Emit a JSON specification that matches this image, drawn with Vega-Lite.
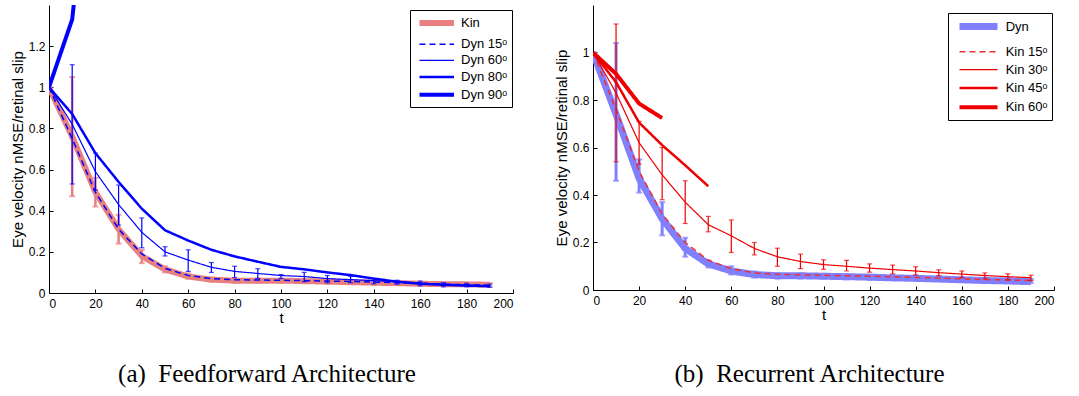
{
  "$schema": "https://vega.github.io/schema/vega-lite/v6.json",
  "padding": {"left": 10, "top": 5, "right": 5, "bottom": 2},
  "spacing": 40,
  "background": "white",
  "resolve": {"scale": {"color": "independent", "strokeDash": "independent", "strokeWidth": "independent", "x": "independent", "y": "independent"}, "legend": {"color": "independent", "strokeDash": "independent", "strokeWidth": "independent"}},
  "config": {
    "view": {"stroke": null},
    "axis": {"domainColor": "black", "tickColor": "black", "labelColor": "black", "titleColor": "black", "labelFont": "Liberation Sans", "titleFont": "Liberation Sans", "labelFontSize": 12, "titleFontSize": 15, "titleFontWeight": "normal", "grid": false, "tickSize": -4, "labelPadding": 8},
    "axisX": {"labelPadding": 9, "titlePadding": 1},
    "axisY": {"titlePadding": 3}
  },
  "datasets": {
    "ff": [
      {"s": "Kin", "t": 0, "v": 1.0}, {"s": "Kin", "t": 10, "v": 0.76}, {"s": "Kin", "t": 20, "v": 0.49}, {"s": "Kin", "t": 30, "v": 0.31}, {"s": "Kin", "t": 40, "v": 0.18}, {"s": "Kin", "t": 50, "v": 0.115}, {"s": "Kin", "t": 60, "v": 0.08}, {"s": "Kin", "t": 70, "v": 0.065}, {"s": "Kin", "t": 80, "v": 0.06}, {"s": "Kin", "t": 90, "v": 0.06}, {"s": "Kin", "t": 100, "v": 0.06}, {"s": "Kin", "t": 110, "v": 0.058}, {"s": "Kin", "t": 120, "v": 0.055}, {"s": "Kin", "t": 130, "v": 0.053}, {"s": "Kin", "t": 140, "v": 0.05}, {"s": "Kin", "t": 150, "v": 0.048}, {"s": "Kin", "t": 160, "v": 0.045}, {"s": "Kin", "t": 170, "v": 0.043}, {"s": "Kin", "t": 180, "v": 0.042}, {"s": "Kin", "t": 190, "v": 0.04},
      {"s": "Dyn 15ᵒ", "t": 0, "v": 1.0}, {"s": "Dyn 15ᵒ", "t": 10, "v": 0.75}, {"s": "Dyn 15ᵒ", "t": 20, "v": 0.49}, {"s": "Dyn 15ᵒ", "t": 30, "v": 0.31}, {"s": "Dyn 15ᵒ", "t": 40, "v": 0.19}, {"s": "Dyn 15ᵒ", "t": 50, "v": 0.12}, {"s": "Dyn 15ᵒ", "t": 60, "v": 0.085}, {"s": "Dyn 15ᵒ", "t": 70, "v": 0.07}, {"s": "Dyn 15ᵒ", "t": 80, "v": 0.065}, {"s": "Dyn 15ᵒ", "t": 90, "v": 0.063}, {"s": "Dyn 15ᵒ", "t": 100, "v": 0.062}, {"s": "Dyn 15ᵒ", "t": 110, "v": 0.06}, {"s": "Dyn 15ᵒ", "t": 120, "v": 0.058}, {"s": "Dyn 15ᵒ", "t": 130, "v": 0.056}, {"s": "Dyn 15ᵒ", "t": 140, "v": 0.053}, {"s": "Dyn 15ᵒ", "t": 150, "v": 0.05}, {"s": "Dyn 15ᵒ", "t": 160, "v": 0.047}, {"s": "Dyn 15ᵒ", "t": 170, "v": 0.043}, {"s": "Dyn 15ᵒ", "t": 180, "v": 0.04}, {"s": "Dyn 15ᵒ", "t": 190, "v": 0.038},
      {"s": "Dyn 60ᵒ", "t": 0, "v": 1.0}, {"s": "Dyn 60ᵒ", "t": 10, "v": 0.82}, {"s": "Dyn 60ᵒ", "t": 20, "v": 0.59}, {"s": "Dyn 60ᵒ", "t": 30, "v": 0.43}, {"s": "Dyn 60ᵒ", "t": 40, "v": 0.295}, {"s": "Dyn 60ᵒ", "t": 50, "v": 0.2}, {"s": "Dyn 60ᵒ", "t": 60, "v": 0.16}, {"s": "Dyn 60ᵒ", "t": 70, "v": 0.125}, {"s": "Dyn 60ᵒ", "t": 80, "v": 0.105}, {"s": "Dyn 60ᵒ", "t": 90, "v": 0.095}, {"s": "Dyn 60ᵒ", "t": 100, "v": 0.085}, {"s": "Dyn 60ᵒ", "t": 110, "v": 0.08}, {"s": "Dyn 60ᵒ", "t": 120, "v": 0.07}, {"s": "Dyn 60ᵒ", "t": 130, "v": 0.065}, {"s": "Dyn 60ᵒ", "t": 140, "v": 0.06}, {"s": "Dyn 60ᵒ", "t": 150, "v": 0.055}, {"s": "Dyn 60ᵒ", "t": 160, "v": 0.048}, {"s": "Dyn 60ᵒ", "t": 170, "v": 0.042}, {"s": "Dyn 60ᵒ", "t": 180, "v": 0.038}, {"s": "Dyn 60ᵒ", "t": 190, "v": 0.035},
      {"s": "Dyn 80ᵒ", "t": 0, "v": 1.0}, {"s": "Dyn 80ᵒ", "t": 10, "v": 0.87}, {"s": "Dyn 80ᵒ", "t": 20, "v": 0.68}, {"s": "Dyn 80ᵒ", "t": 30, "v": 0.54}, {"s": "Dyn 80ᵒ", "t": 40, "v": 0.41}, {"s": "Dyn 80ᵒ", "t": 50, "v": 0.305}, {"s": "Dyn 80ᵒ", "t": 60, "v": 0.255}, {"s": "Dyn 80ᵒ", "t": 70, "v": 0.21}, {"s": "Dyn 80ᵒ", "t": 80, "v": 0.178}, {"s": "Dyn 80ᵒ", "t": 90, "v": 0.152}, {"s": "Dyn 80ᵒ", "t": 100, "v": 0.127}, {"s": "Dyn 80ᵒ", "t": 110, "v": 0.115}, {"s": "Dyn 80ᵒ", "t": 120, "v": 0.1}, {"s": "Dyn 80ᵒ", "t": 130, "v": 0.087}, {"s": "Dyn 80ᵒ", "t": 140, "v": 0.07}, {"s": "Dyn 80ᵒ", "t": 150, "v": 0.055}, {"s": "Dyn 80ᵒ", "t": 160, "v": 0.045}, {"s": "Dyn 80ᵒ", "t": 170, "v": 0.04}, {"s": "Dyn 80ᵒ", "t": 180, "v": 0.036}, {"s": "Dyn 80ᵒ", "t": 190, "v": 0.033},
      {"s": "Dyn 90ᵒ", "t": 0, "v": 1.0}, {"s": "Dyn 90ᵒ", "t": 10, "v": 1.33}, {"s": "Dyn 90ᵒ", "t": 20, "v": 2.4}
    ],
    "ffErr": [
      {"s": "Kin", "t": 10, "lo": 0.47, "hi": 1.05}, {"s": "Kin", "t": 20, "lo": 0.42, "hi": 0.56}, {"s": "Kin", "t": 30, "lo": 0.24, "hi": 0.38}, {"s": "Kin", "t": 40, "lo": 0.145, "hi": 0.21}, {"s": "Kin", "t": 50, "lo": 0.1, "hi": 0.13}, {"s": "Kin", "t": 60, "lo": 0.07, "hi": 0.095}, {"s": "Kin", "t": 70, "lo": 0.055, "hi": 0.075}, {"s": "Kin", "t": 80, "lo": 0.05, "hi": 0.07}, {"s": "Kin", "t": 90, "lo": 0.05, "hi": 0.07}, {"s": "Kin", "t": 100, "lo": 0.05, "hi": 0.07}, {"s": "Kin", "t": 110, "lo": 0.048, "hi": 0.068}, {"s": "Kin", "t": 120, "lo": 0.045, "hi": 0.065}, {"s": "Kin", "t": 130, "lo": 0.043, "hi": 0.063}, {"s": "Kin", "t": 140, "lo": 0.04, "hi": 0.06}, {"s": "Kin", "t": 150, "lo": 0.04, "hi": 0.056}, {"s": "Kin", "t": 160, "lo": 0.037, "hi": 0.053}, {"s": "Kin", "t": 170, "lo": 0.035, "hi": 0.051}, {"s": "Kin", "t": 180, "lo": 0.034, "hi": 0.05}, {"s": "Kin", "t": 190, "lo": 0.032, "hi": 0.048},
      {"s": "Dyn 60ᵒ", "t": 10, "lo": 0.53, "hi": 1.11}, {"s": "Dyn 60ᵒ", "t": 20, "lo": 0.5, "hi": 0.68}, {"s": "Dyn 60ᵒ", "t": 30, "lo": 0.33, "hi": 0.525}, {"s": "Dyn 60ᵒ", "t": 40, "lo": 0.22, "hi": 0.365}, {"s": "Dyn 60ᵒ", "t": 50, "lo": 0.18, "hi": 0.225}, {"s": "Dyn 60ᵒ", "t": 60, "lo": 0.105, "hi": 0.21}, {"s": "Dyn 60ᵒ", "t": 70, "lo": 0.1, "hi": 0.148}, {"s": "Dyn 60ᵒ", "t": 80, "lo": 0.075, "hi": 0.13}, {"s": "Dyn 60ᵒ", "t": 90, "lo": 0.07, "hi": 0.118}, {"s": "Dyn 60ᵒ", "t": 100, "lo": 0.07, "hi": 0.09}, {"s": "Dyn 60ᵒ", "t": 110, "lo": 0.055, "hi": 0.1}, {"s": "Dyn 60ᵒ", "t": 120, "lo": 0.05, "hi": 0.085}, {"s": "Dyn 60ᵒ", "t": 130, "lo": 0.05, "hi": 0.08}, {"s": "Dyn 60ᵒ", "t": 140, "lo": 0.045, "hi": 0.07}, {"s": "Dyn 60ᵒ", "t": 150, "lo": 0.043, "hi": 0.062}, {"s": "Dyn 60ᵒ", "t": 160, "lo": 0.035, "hi": 0.058}, {"s": "Dyn 60ᵒ", "t": 170, "lo": 0.03, "hi": 0.05}, {"s": "Dyn 60ᵒ", "t": 180, "lo": 0.03, "hi": 0.047}, {"s": "Dyn 60ᵒ", "t": 190, "lo": 0.028, "hi": 0.043}
    ],
    "rc": [
      {"s": "Dyn", "t": 0, "v": 1.0}, {"s": "Dyn", "t": 10, "v": 0.74}, {"s": "Dyn", "t": 20, "v": 0.47}, {"s": "Dyn", "t": 30, "v": 0.3}, {"s": "Dyn", "t": 40, "v": 0.175}, {"s": "Dyn", "t": 50, "v": 0.11}, {"s": "Dyn", "t": 60, "v": 0.08}, {"s": "Dyn", "t": 70, "v": 0.065}, {"s": "Dyn", "t": 80, "v": 0.06}, {"s": "Dyn", "t": 90, "v": 0.06}, {"s": "Dyn", "t": 100, "v": 0.058}, {"s": "Dyn", "t": 110, "v": 0.056}, {"s": "Dyn", "t": 120, "v": 0.054}, {"s": "Dyn", "t": 130, "v": 0.051}, {"s": "Dyn", "t": 140, "v": 0.049}, {"s": "Dyn", "t": 150, "v": 0.046}, {"s": "Dyn", "t": 160, "v": 0.043}, {"s": "Dyn", "t": 170, "v": 0.04}, {"s": "Dyn", "t": 180, "v": 0.038}, {"s": "Dyn", "t": 190, "v": 0.035},
      {"s": "Kin 15ᵒ", "t": 0, "v": 1.0}, {"s": "Kin 15ᵒ", "t": 10, "v": 0.76}, {"s": "Kin 15ᵒ", "t": 20, "v": 0.5}, {"s": "Kin 15ᵒ", "t": 30, "v": 0.32}, {"s": "Kin 15ᵒ", "t": 40, "v": 0.2}, {"s": "Kin 15ᵒ", "t": 50, "v": 0.125}, {"s": "Kin 15ᵒ", "t": 60, "v": 0.09}, {"s": "Kin 15ᵒ", "t": 70, "v": 0.072}, {"s": "Kin 15ᵒ", "t": 80, "v": 0.066}, {"s": "Kin 15ᵒ", "t": 90, "v": 0.064}, {"s": "Kin 15ᵒ", "t": 100, "v": 0.062}, {"s": "Kin 15ᵒ", "t": 110, "v": 0.06}, {"s": "Kin 15ᵒ", "t": 120, "v": 0.058}, {"s": "Kin 15ᵒ", "t": 130, "v": 0.056}, {"s": "Kin 15ᵒ", "t": 140, "v": 0.053}, {"s": "Kin 15ᵒ", "t": 150, "v": 0.05}, {"s": "Kin 15ᵒ", "t": 160, "v": 0.047}, {"s": "Kin 15ᵒ", "t": 170, "v": 0.044}, {"s": "Kin 15ᵒ", "t": 180, "v": 0.042}, {"s": "Kin 15ᵒ", "t": 190, "v": 0.04},
      {"s": "Kin 30ᵒ", "t": 0, "v": 1.0}, {"s": "Kin 30ᵒ", "t": 10, "v": 0.83}, {"s": "Kin 30ᵒ", "t": 20, "v": 0.62}, {"s": "Kin 30ᵒ", "t": 30, "v": 0.485}, {"s": "Kin 30ᵒ", "t": 40, "v": 0.37}, {"s": "Kin 30ᵒ", "t": 50, "v": 0.275}, {"s": "Kin 30ᵒ", "t": 60, "v": 0.228}, {"s": "Kin 30ᵒ", "t": 70, "v": 0.175}, {"s": "Kin 30ᵒ", "t": 80, "v": 0.14}, {"s": "Kin 30ᵒ", "t": 90, "v": 0.12}, {"s": "Kin 30ᵒ", "t": 100, "v": 0.107}, {"s": "Kin 30ᵒ", "t": 110, "v": 0.1}, {"s": "Kin 30ᵒ", "t": 120, "v": 0.092}, {"s": "Kin 30ᵒ", "t": 130, "v": 0.086}, {"s": "Kin 30ᵒ", "t": 140, "v": 0.08}, {"s": "Kin 30ᵒ", "t": 150, "v": 0.073}, {"s": "Kin 30ᵒ", "t": 160, "v": 0.067}, {"s": "Kin 30ᵒ", "t": 170, "v": 0.061}, {"s": "Kin 30ᵒ", "t": 180, "v": 0.056}, {"s": "Kin 30ᵒ", "t": 190, "v": 0.052},
      {"s": "Kin 45ᵒ", "t": 0, "v": 1.0}, {"s": "Kin 45ᵒ", "t": 10, "v": 0.875}, {"s": "Kin 45ᵒ", "t": 20, "v": 0.705}, {"s": "Kin 45ᵒ", "t": 30, "v": 0.61}, {"s": "Kin 45ᵒ", "t": 40, "v": 0.525}, {"s": "Kin 45ᵒ", "t": 50, "v": 0.437},
      {"s": "Kin 60ᵒ", "t": 0, "v": 1.0}, {"s": "Kin 60ᵒ", "t": 10, "v": 0.91}, {"s": "Kin 60ᵒ", "t": 20, "v": 0.785}, {"s": "Kin 60ᵒ", "t": 30, "v": 0.724}
    ],
    "rcErr": [
      {"s": "Dyn", "t": 10, "lo": 0.46, "hi": 1.04}, {"s": "Dyn", "t": 20, "lo": 0.41, "hi": 0.55}, {"s": "Dyn", "t": 30, "lo": 0.23, "hi": 0.37}, {"s": "Dyn", "t": 40, "lo": 0.14, "hi": 0.22}, {"s": "Dyn", "t": 50, "lo": 0.095, "hi": 0.125}, {"s": "Dyn", "t": 60, "lo": 0.065, "hi": 0.1}, {"s": "Dyn", "t": 70, "lo": 0.052, "hi": 0.078}, {"s": "Dyn", "t": 80, "lo": 0.048, "hi": 0.07}, {"s": "Dyn", "t": 90, "lo": 0.048, "hi": 0.07}, {"s": "Dyn", "t": 100, "lo": 0.047, "hi": 0.068}, {"s": "Dyn", "t": 110, "lo": 0.045, "hi": 0.066}, {"s": "Dyn", "t": 120, "lo": 0.043, "hi": 0.064}, {"s": "Dyn", "t": 130, "lo": 0.042, "hi": 0.062}, {"s": "Dyn", "t": 140, "lo": 0.04, "hi": 0.06}, {"s": "Dyn", "t": 150, "lo": 0.038, "hi": 0.058}, {"s": "Dyn", "t": 160, "lo": 0.036, "hi": 0.055}, {"s": "Dyn", "t": 170, "lo": 0.034, "hi": 0.052}, {"s": "Dyn", "t": 180, "lo": 0.032, "hi": 0.05}, {"s": "Dyn", "t": 190, "lo": 0.03, "hi": 0.046},
      {"s": "Kin 30ᵒ", "t": 10, "lo": 0.54, "hi": 1.12}, {"s": "Kin 30ᵒ", "t": 20, "lo": 0.53, "hi": 0.71}, {"s": "Kin 30ᵒ", "t": 30, "lo": 0.38, "hi": 0.6}, {"s": "Kin 30ᵒ", "t": 40, "lo": 0.28, "hi": 0.46}, {"s": "Kin 30ᵒ", "t": 50, "lo": 0.245, "hi": 0.31}, {"s": "Kin 30ᵒ", "t": 60, "lo": 0.158, "hi": 0.295}, {"s": "Kin 30ᵒ", "t": 70, "lo": 0.148, "hi": 0.2}, {"s": "Kin 30ᵒ", "t": 80, "lo": 0.1, "hi": 0.176}, {"s": "Kin 30ᵒ", "t": 90, "lo": 0.09, "hi": 0.151}, {"s": "Kin 30ᵒ", "t": 100, "lo": 0.087, "hi": 0.127}, {"s": "Kin 30ᵒ", "t": 110, "lo": 0.08, "hi": 0.125}, {"s": "Kin 30ᵒ", "t": 120, "lo": 0.075, "hi": 0.11}, {"s": "Kin 30ᵒ", "t": 130, "lo": 0.068, "hi": 0.105}, {"s": "Kin 30ᵒ", "t": 140, "lo": 0.063, "hi": 0.098}, {"s": "Kin 30ᵒ", "t": 150, "lo": 0.06, "hi": 0.085}, {"s": "Kin 30ᵒ", "t": 160, "lo": 0.052, "hi": 0.08}, {"s": "Kin 30ᵒ", "t": 170, "lo": 0.047, "hi": 0.072}, {"s": "Kin 30ᵒ", "t": 180, "lo": 0.042, "hi": 0.068}, {"s": "Kin 30ᵒ", "t": 190, "lo": 0.04, "hi": 0.062}
    ]
  },
  "hconcat": [
    {
      "width": 464,
      "height": 288,
      "title": {"text": "(a)\u00a0 Feedforward Architecture", "orient": "bottom", "anchor": "middle", "font": "Liberation Serif", "fontSize": 25, "fontWeight": "normal", "color": "black", "offset": 37, "dx": -14},
      "layer": [
        {
          "data": {"name": "ffErr"},
          "transform": [{"filter": "datum.s === 'Kin'"}],
          "layer": [
            {"mark": {"type": "rule", "color": "#e88080", "strokeWidth": 2.5}, "encoding": {"x": {"field": "t", "type": "quantitative"}, "y": {"field": "lo", "type": "quantitative"}, "y2": {"field": "hi"}}},
            {"mark": {"type": "tick", "orient": "horizontal", "color": "#e88080", "size": 6, "thickness": 2}, "encoding": {"x": {"field": "t", "type": "quantitative"}, "y": {"field": "lo", "type": "quantitative"}}},
            {"mark": {"type": "tick", "orient": "horizontal", "color": "#e88080", "size": 6, "thickness": 2}, "encoding": {"x": {"field": "t", "type": "quantitative"}, "y": {"field": "hi", "type": "quantitative"}}}
          ]
        },
        {
          "data": {"name": "ff"},
          "mark": {"type": "line", "clip": true},
          "encoding": {
            "x": {"field": "t", "type": "quantitative", "scale": {"domain": [0, 200], "padding": 0}, "axis": {"values": [0, 20, 40, 60, 80, 100, 120, 140, 160, 180, 200], "title": "t"}},
            "y": {"field": "v", "type": "quantitative", "scale": {"domain": [0, 1.4], "padding": 0}, "axis": {"values": [0, 0.2, 0.4, 0.6, 0.8, 1, 1.2], "format": "~g", "title": "Eye velocity nMSE/retinal slip"}},
            "detail": {"field": "s"},
            "color": {"field": "s", "type": "nominal", "scale": {"domain": ["Kin", "Dyn 15ᵒ", "Dyn 60ᵒ", "Dyn 80ᵒ", "Dyn 90ᵒ"], "range": ["#e88080", "#0000ff", "#0000ff", "#0000ff", "#0000ff"]},
              "legend": {"title": null, "orient": "none", "legendX": 361, "legendY": 5, "strokeColor": "black", "fillColor": "white", "padding": 4, "symbolType": "M-2.875,0H2.875", "symbolSize": 144, "symbolOffset": 13.75, "labelOffset": 15.25, "labelFontSize": 13, "labelFont": "Liberation Sans", "labelColor": "black", "rowPadding": 2.2}},
            "strokeDash": {"field": "s", "type": "nominal", "scale": {"domain": ["Kin", "Dyn 15ᵒ", "Dyn 60ᵒ", "Dyn 80ᵒ", "Dyn 90ᵒ"], "range": [[1, 0], [6, 4], [1, 0], [1, 0], [1, 0]]},
              "legend": {"title": null, "orient": "none", "legendX": 361, "legendY": 5, "strokeColor": "black", "fillColor": "white", "padding": 4, "symbolType": "M-2.875,0H2.875", "symbolSize": 144, "symbolOffset": 13.75, "labelOffset": 15.25, "labelFontSize": 13, "labelFont": "Liberation Sans", "labelColor": "black", "rowPadding": 2.2}},
            "strokeWidth": {"field": "s", "type": "ordinal", "scale": {"type": "ordinal", "domain": ["Kin", "Dyn 15ᵒ", "Dyn 60ᵒ", "Dyn 80ᵒ", "Dyn 90ᵒ"], "range": [6, 1.5, 1.2, 2.5, 4]},
              "legend": {"title": null, "orient": "none", "legendX": 361, "legendY": 5, "strokeColor": "black", "fillColor": "white", "padding": 4, "symbolType": "M-2.875,0H2.875", "symbolSize": 144, "symbolOffset": 13.75, "labelOffset": 15.25, "labelFontSize": 13, "labelFont": "Liberation Sans", "labelColor": "black", "rowPadding": 2.2}}
          }
        },
        {
          "data": {"name": "ffErr"},
          "transform": [{"filter": "datum.s === 'Dyn 60ᵒ'"}],
          "layer": [
            {"mark": {"type": "rule", "color": "#0000ff", "strokeWidth": 1.2}, "encoding": {"x": {"field": "t", "type": "quantitative"}, "y": {"field": "lo", "type": "quantitative"}, "y2": {"field": "hi"}}},
            {"mark": {"type": "tick", "orient": "horizontal", "color": "#0000ff", "size": 5, "thickness": 1.2}, "encoding": {"x": {"field": "t", "type": "quantitative"}, "y": {"field": "lo", "type": "quantitative"}}},
            {"mark": {"type": "tick", "orient": "horizontal", "color": "#0000ff", "size": 5, "thickness": 1.2}, "encoding": {"x": {"field": "t", "type": "quantitative"}, "y": {"field": "hi", "type": "quantitative"}}}
          ]
        }
      ]
    },
    {
      "width": 461,
      "height": 285,
      "title": {"text": "(b)\u00a0 Recurrent Architecture", "orient": "bottom", "anchor": "middle", "font": "Liberation Serif", "fontSize": 25, "fontWeight": "normal", "color": "black", "offset": 40, "dx": -14},
      "layer": [
        {
          "data": {"name": "rcErr"},
          "transform": [{"filter": "datum.s === 'Dyn'"}],
          "layer": [
            {"mark": {"type": "rule", "color": "#8080ff", "strokeWidth": 3}, "encoding": {"x": {"field": "t", "type": "quantitative"}, "y": {"field": "lo", "type": "quantitative"}, "y2": {"field": "hi"}}},
            {"mark": {"type": "tick", "orient": "horizontal", "color": "#8080ff", "size": 6, "thickness": 2}, "encoding": {"x": {"field": "t", "type": "quantitative"}, "y": {"field": "lo", "type": "quantitative"}}},
            {"mark": {"type": "tick", "orient": "horizontal", "color": "#8080ff", "size": 6, "thickness": 2}, "encoding": {"x": {"field": "t", "type": "quantitative"}, "y": {"field": "hi", "type": "quantitative"}}}
          ]
        },
        {
          "data": {"name": "rc"},
          "mark": {"type": "line", "clip": true},
          "encoding": {
            "x": {"field": "t", "type": "quantitative", "scale": {"domain": [0, 200], "padding": 0}, "axis": {"values": [0, 20, 40, 60, 80, 100, 120, 140, 160, 180, 200], "title": "t"}},
            "y": {"field": "v", "type": "quantitative", "scale": {"domain": [0, 1.2], "padding": 0}, "axis": {"values": [0, 0.2, 0.4, 0.6, 0.8, 1], "format": "~g", "title": "Eye velocity nMSE/retinal slip"}},
            "detail": {"field": "s"},
            "color": {"field": "s", "type": "nominal", "scale": {"domain": ["Dyn", "Kin 15ᵒ", "Kin 30ᵒ", "Kin 45ᵒ", "Kin 60ᵒ"], "range": ["#8080ff", "#ee3030", "#ee0000", "#ee0000", "#ee0000"]},
              "legend": {"title": null, "orient": "none", "legendX": 355, "legendY": 8, "strokeColor": "black", "fillColor": "white", "padding": 4, "symbolType": "M-3.17,0H3.17", "symbolSize": 144, "symbolOffset": 17, "labelOffset": 17.7, "labelFontSize": 13, "labelFont": "Liberation Sans", "labelColor": "black", "rowPadding": 3.8}},
            "strokeDash": {"field": "s", "type": "nominal", "scale": {"domain": ["Dyn", "Kin 15ᵒ", "Kin 30ᵒ", "Kin 45ᵒ", "Kin 60ᵒ"], "range": [[1, 0], [6, 4], [1, 0], [1, 0], [1, 0]]},
              "legend": {"title": null, "orient": "none", "legendX": 355, "legendY": 8, "strokeColor": "black", "fillColor": "white", "padding": 4, "symbolType": "M-3.17,0H3.17", "symbolSize": 144, "symbolOffset": 17, "labelOffset": 17.7, "labelFontSize": 13, "labelFont": "Liberation Sans", "labelColor": "black", "rowPadding": 3.8}},
            "strokeWidth": {"field": "s", "type": "ordinal", "scale": {"type": "ordinal", "domain": ["Dyn", "Kin 15ᵒ", "Kin 30ᵒ", "Kin 45ᵒ", "Kin 60ᵒ"], "range": [7, 1.5, 1.2, 2.5, 4]},
              "legend": {"title": null, "orient": "none", "legendX": 355, "legendY": 8, "strokeColor": "black", "fillColor": "white", "padding": 4, "symbolType": "M-3.17,0H3.17", "symbolSize": 144, "symbolOffset": 17, "labelOffset": 17.7, "labelFontSize": 13, "labelFont": "Liberation Sans", "labelColor": "black", "rowPadding": 3.8}}
          }
        },
        {
          "data": {"name": "rcErr"},
          "transform": [{"filter": "datum.s === 'Kin 30ᵒ'"}],
          "layer": [
            {"mark": {"type": "rule", "color": "#ee0000", "strokeWidth": 1.2}, "encoding": {"x": {"field": "t", "type": "quantitative"}, "y": {"field": "lo", "type": "quantitative"}, "y2": {"field": "hi"}}},
            {"mark": {"type": "tick", "orient": "horizontal", "color": "#ee0000", "size": 5, "thickness": 1.2}, "encoding": {"x": {"field": "t", "type": "quantitative"}, "y": {"field": "lo", "type": "quantitative"}}},
            {"mark": {"type": "tick", "orient": "horizontal", "color": "#ee0000", "size": 5, "thickness": 1.2}, "encoding": {"x": {"field": "t", "type": "quantitative"}, "y": {"field": "hi", "type": "quantitative"}}}
          ]
        }
      ]
    }
  ]
}
